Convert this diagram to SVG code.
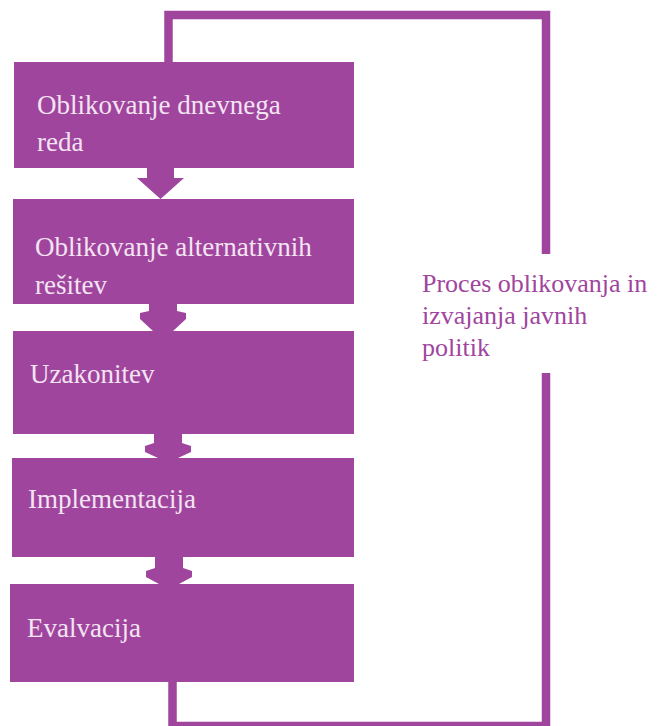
<svg xmlns="http://www.w3.org/2000/svg" width="661" height="726" viewBox="0 0 661 726">
<style>
.box{fill:#A0459E;}
.arr{fill:#A0459E;}
.loop{fill:none;stroke:#A0459E;stroke-width:8.5;stroke-linejoin:miter;}
.t{font-size:27px;fill:#F3E4F2;}
.lbl{font-size:26px;fill:#A0459E;}
</style>
<rect width="661" height="726" fill="#FFFFFF"/>
<g id="connectors">
<path class="loop" d="M168.5,62 V15 H546 V254"/>
<path class="loop" d="M546,373 V726 H172.5 V682"/>
<polygon class="arr" points="147,168 174,168 174,178 184,178 160.5,199 137,178 147,178"/>
<polygon class="arr" points="149,304 177,304 177,311 186,313 186,319 173,331 153,331 140,319 140,313 149,311"/>
<polygon class="arr" points="154,434 182,434 182,443 191,446 191,452 178,458 158,458 145,452 145,446 154,443"/>
<polygon class="arr" points="155,557 183,557 183,568 192,571 192,577 179,584 159,584 146,577 146,571 155,568"/>
</g>
<g font-family="'Liberation Serif', 'Times New Roman', Times, 'DejaVu Serif', serif">
<g id="node1">
<rect class="box" x="14" y="62" width="340" height="106"/>
<text class="t" x="37" y="114">Oblikovanje dnevnega</text>
<text class="t" x="37" y="151">reda</text>
</g>
<g id="node2">
<rect class="box" x="13" y="199" width="341" height="105"/>
<text class="t" x="35" y="256">Oblikovanje alternativnih</text>
<text class="t" x="35" y="294">rešitev</text>
</g>
<g id="node3">
<rect class="box" x="13" y="331" width="341" height="103"/>
<text class="t" x="30" y="383">Uzakonitev</text>
</g>
<g id="node4">
<rect class="box" x="12" y="458" width="342" height="99"/>
<text class="t" x="28" y="508">Implementacija</text>
</g>
<g id="node5">
<rect class="box" x="10" y="584" width="344" height="98"/>
<text class="t" x="27" y="637">Evalvacija</text>
</g>
<g id="label">
<text class="lbl" x="422" y="292">Proces oblikovanja in</text>
<text class="lbl" x="422" y="324">izvajanja javnih</text>
<text class="lbl" x="422" y="356">politik</text>
</g>
</g>
</svg>
